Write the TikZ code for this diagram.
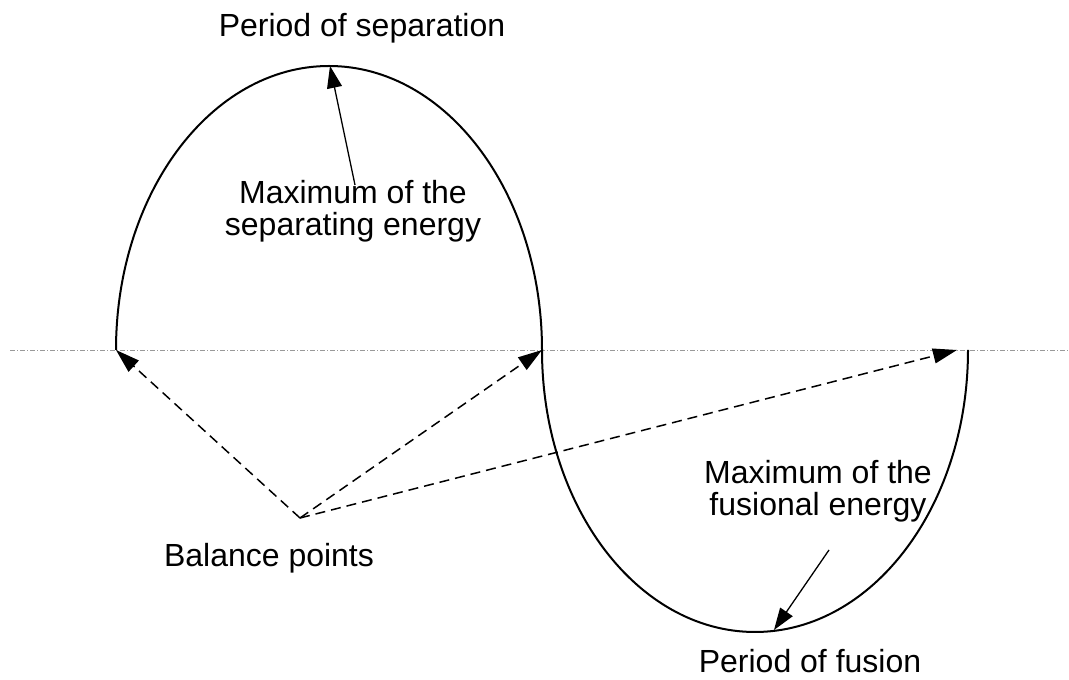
\documentclass[tikz,border=0pt]{standalone}
\usepackage{fontspec}
\setmainfont{Liberation Sans}
\usetikzlibrary{arrows.meta}
\tikzset{
  lbl/.style={font=\fontsize{32}{32}\selectfont, inner sep=0pt, align=center},
  wave/.style={line width=2pt, black},
  axisline/.style={line width=0.9pt, gray!80, dash pattern=on 5pt off 2pt on 1pt off 2pt},
  ptr/.style={line width=1.3pt, -{Triangle[length=22pt,width=15pt]}},
  dptr/.style={line width=1.5pt, dash pattern=on 10pt off 6pt, -{Triangle[length=24pt,width=15pt]}}
}
\begin{document}
\begin{tikzpicture}[x=1pt,y=1pt]
\useasboundingbox (0,0) rectangle (1069,680);
% axis
\coordinate (axL) at (10,330);
\coordinate (axR) at (1069,330);
\draw[axisline] (axL) -- (axR);
% key points
\coordinate (L) at (116,330);
\coordinate (M) at (542,330);
\coordinate (R) at (968,330);
\coordinate (Rtip) at (957,330);
\coordinate (T) at (330,614);
\coordinate (Bt) at (774,50);
\coordinate (B) at (300,162);
% waves
\draw[wave] (L) arc[start angle=180,end angle=0,x radius=213pt,y radius=284pt];
\draw[wave] (M) arc[start angle=180,end angle=360,x radius=213pt,y radius=282pt];
% labels
\node[lbl, anchor=base] (psep) at (362,643) {Period of separation};
\node[lbl, anchor=north] (msep) at (353,500) {Maximum of the\\separating energy};
\node[lbl, anchor=base] (bal) at (269,113) {Balance points};
\node[lbl, anchor=north] (mfus) at (818,220) {Maximum of the\\fusional energy};
\node[lbl, anchor=base] (pfus) at (810,7) {Period of fusion};
% pointers
\coordinate (s1) at (355,495);
\coordinate (s2) at (829,130);
\draw[ptr] (s1) -- (T);
\draw[ptr] (s2) -- (Bt);
\draw[dptr] (B) -- (L);
\draw[dptr] (B) -- (M);
\draw[dptr] (B) -- (Rtip);
\end{tikzpicture}
\end{document}
